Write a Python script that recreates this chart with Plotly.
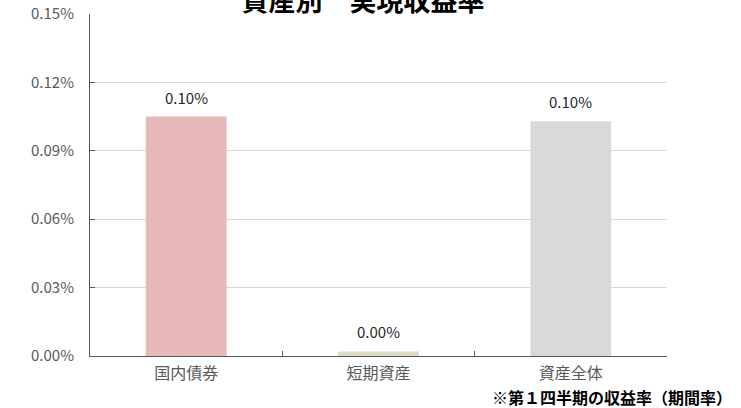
import plotly.graph_objects as go

categories = ["国内債券", "短期資産", "資産全体"]
values = [0.00105, 0.00002, 0.00103]
labels = ["0.10%", "0.00%", "0.10%"]
colors = ["#e6b8b7", "#ddd9c3", "#d9d9d9"]
tick_vals = [0.0, 0.0003, 0.0006, 0.0009, 0.0012, 0.0015]

FONT = "Noto Sans CJK JP"

fig = go.Figure()
fig.add_trace(go.Bar(
    x=categories, y=values, marker=dict(color=colors, line=dict(width=0)),
    width=0.42, hoverinfo="skip",
))

for c, v, t in zip(categories, values, labels):
    fig.add_annotation(x=c, y=v, text=t, showarrow=False, yanchor="bottom",
                       yshift=7, font=dict(family=FONT, size=15, color="#262626"))

fig.add_annotation(xref="paper", yref="paper", x=1.1144, y=-0.12, xanchor="right",
                   yanchor="middle", text="<b>※第１四半期の収益率（期間率）</b>", showarrow=False,
                   borderpad=0, font=dict(family=FONT, size=16, color="#000000"))

fig.update_layout(
    width=741, height=408,
    margin=dict(l=90, r=74, t=14, b=52, autoexpand=False),
    paper_bgcolor="white", plot_bgcolor="white",
    title=dict(text="<b>資産別　実現収益率</b>", x=0.49, xanchor="center",
               y=0.997, yanchor="middle", yref="container",
               font=dict(family=FONT, size=27, color="#000000")),
    showlegend=False,
    xaxis=dict(type="category", tickson="boundaries", ticks="inside", ticklen=5,
               tickcolor="#595959", showline=True, linecolor="#595959", linewidth=1,
               showgrid=False, tickfont=dict(family=FONT, size=16, color="#595959"),
               fixedrange=True, automargin=False, ticklabelstandoff=3),
    yaxis=dict(range=[0, 0.0015], tickvals=tick_vals, tickformat=".2%",
               ticks="inside", ticklen=5, tickcolor="#595959", showline=True,
               linecolor="#595959", linewidth=1, gridcolor="#d9d9d9", gridwidth=1,
               zeroline=False, tickfont=dict(family=FONT, size=15, color="#595959"),
               ticklabelstandoff=12, automargin=False, fixedrange=True),
)

fig.write_html("out.html", config={"displayModeBar": False},
               post_script="document.body.style.margin='0px';")
